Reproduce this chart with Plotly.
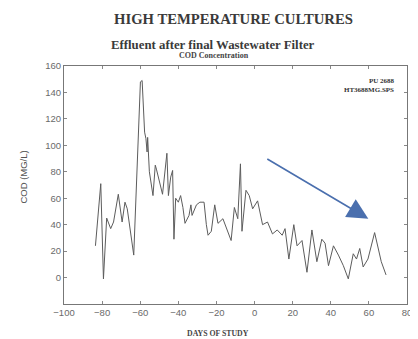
import plotly.graph_objects as go

days = [-83.5, -80.7, -79.3, -77.6, -75.5, -74.0, -71.5, -69.5, -68.0, -66.8, -63.4,
        -60.8, -59.9, -59.0, -57.7, -57.0, -56.4, -56.1, -55.2, -53.3, -52.1, -51.5,
        -48.3, -46.0, -45.2, -44.0, -43.0, -42.3, -41.4, -40.0, -38.8, -37.6, -36.5,
        -34.4, -33.4, -32.8, -30.5, -28.7, -26.5, -25.3, -24.4, -22.7, -20.9, -19.2,
        -16.6, -12.3, -10.6, -8.8, -7.4, -6.6, -4.5, -2.8, -1.0, 1.6, 4.2, 6.8, 9.4,
        11.9, 14.5, 16.0, 18.0, 20.6, 22.3, 24.9, 27.5, 30.1, 32.7, 35.3, 37.0, 38.8,
        41.4, 44.0, 46.6, 49.2, 51.8, 53.5, 55.2, 57.0, 59.5, 63.0, 64.7, 66.5, 69.0]
cod = [24, 71, -1, 45, 37, 42, 63, 42, 57, 52, 17,
       115, 148, 149, 110, 105, 95, 106, 80, 62, 85, 82,
       63, 94, 62, 76, 81, 29, 60, 57, 62, 53, 41,
       47, 55, 47, 55, 57, 57, 40, 32, 35, 55, 41,
       44.5, 28, 53, 44.5, 86, 35, 66, 62, 52, 58, 40, 42, 33,
       36, 32, 37, 14, 40, 24, 28, 4, 36, 12, 29, 26, 9,
       24, 17, 9, -1, 18, 14, 22, 8, 14, 34, 24, 12, 2]

x_ticks = [-100, -80, -60, -40, -20, 0, 20, 40, 60, 80]
y_ticks = [0, 20, 40, 60, 80, 100, 120, 140, 160]

arrow_start = (5.9, 90.3)
arrow_end = (59.7, 44.5)

serif = "Liberation Serif"


def px(xp):
    return (xp - 64) / 348


def py(yp):
    return (304 - yp) / 238


fig = go.Figure()
fig.add_trace(go.Scatter(x=days, y=cod, mode="lines",
                         line=dict(color="#5c5c5c", width=1.0),
                         showlegend=False, hoverinfo="skip"))

fig.add_annotation(x=arrow_end[0], y=arrow_end[1], ax=arrow_start[0], ay=arrow_start[1],
                   xref="x", yref="y", axref="x", ayref="y", text="",
                   showarrow=True, arrowhead=2, arrowsize=2.6, arrowwidth=1.6,
                   arrowcolor="#4a6fae", standoff=0)

fig.add_annotation(x=px(401), y=py(75), xref="paper", yref="paper", xanchor="right", yanchor="top",
                   text="<b>PU 2688</b><br><b>HT3688MG.SPS</b>", showarrow=False, align="right",
                   font=dict(family=serif, size=7, color="#333"))
fig.add_annotation(x=px(236), y=py(19), xref="paper", yref="paper", showarrow=False,
                   xanchor="center", yanchor="middle",
                   text="<b>HIGH TEMPERATURE CULTURES</b>", font=dict(family=serif, size=14.7, color="#3a3a3a"))
fig.add_annotation(x=px(215), y=py(45), xref="paper", yref="paper", showarrow=False,
                   xanchor="center", yanchor="middle",
                   text="<b>Effluent after final Wastewater Filter</b>", font=dict(family=serif, size=12.8, color="#3a3a3a"))
fig.add_annotation(x=px(216), y=py(56), xref="paper", yref="paper", showarrow=False,
                   xanchor="center", yanchor="middle",
                   text="<b>COD Concentration</b>", font=dict(family=serif, size=8, color="#444"))
fig.add_annotation(x=px(220), y=py(333), xref="paper", yref="paper", showarrow=False,
                   xanchor="center", yanchor="middle",
                   text="<b>DAYS OF STUDY</b>", font=dict(family=serif, size=7.8, color="#444"))
fig.add_annotation(x=px(22), y=py(177), xref="paper", yref="paper", showarrow=False,
                   xanchor="center", yanchor="middle",
                   textangle=-90, text="COD (MG/L)", font=dict(family="Liberation Sans", size=9.5, color="#555"))

fig.update_layout(
    width=410, height=331,
    margin=dict(l=56, r=6, t=58, b=35),
    paper_bgcolor="white", plot_bgcolor="white",
)
fig.update_xaxes(range=[-100, 80], tickvals=x_ticks, ticks="inside", ticklen=3,
                 tickcolor="#888", showline=True, linecolor="#777", linewidth=1, mirror="ticks",
                 showgrid=False, zeroline=False,
                 tickfont=dict(family="Liberation Sans", size=9.5, color="#6a6a6a"))
fig.update_yaxes(range=[-20, 160], tickvals=y_ticks, ticks="inside", ticklen=3,
                 tickcolor="#888", showline=True, linecolor="#777", linewidth=1, mirror="ticks",
                 showgrid=False, zeroline=False,
                 tickfont=dict(family="Liberation Sans", size=9.5, color="#6a6a6a"))

fig.write_html("out.html")
